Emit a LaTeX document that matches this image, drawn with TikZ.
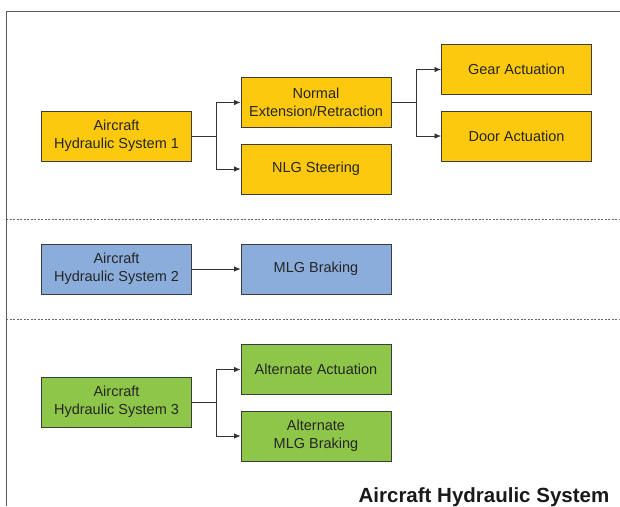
\documentclass[tikz,border=0pt]{standalone}
\usepackage{fontspec}
\setmainfont{Liberation Sans}
\usetikzlibrary{arrows.meta}
\definecolor{boxyellow}{RGB}{252,201,14}
\definecolor{boxblue}{RGB}{138,173,219}
\definecolor{boxgreen}{RGB}{141,198,73}
\definecolor{edgegray}{RGB}{60,60,60}
\definecolor{framegray}{RGB}{90,90,90}
\begin{document}
\begin{tikzpicture}[x=1pt,y=-1pt,
  sysbox/.style={draw=edgegray, line width=0.9pt, minimum width=150pt, minimum height=50pt,
    inner sep=0pt, align=center, text=black!85,
    font=\fontsize{14.5}{17.7}\selectfont},
  yel/.style={sysbox, fill=boxyellow},
  blu/.style={sysbox, fill=boxblue},
  grn/.style={sysbox, fill=boxgreen},
  feed/.style={draw=black!80, line width=0.8pt, -{Latex[length=6.5pt,width=5.5pt]}},
  divider/.style={draw=black!60, line width=0.6pt, dash pattern=on 2pt off 1.5pt}]
\useasboundingbox (0,0) rectangle (620,506);

% outer frame (left and top edges)
\draw[framegray, line width=1pt] (6,506) -- (6,11) -- (620,11);

% section dividers
\draw[divider] (6,219) -- (620,219);
\draw[divider] (6,319) -- (620,319);

% system 1
\node[yel] (hs1) at (116.5,136) {Aircraft\\Hydraulic System 1};
\node[yel] (ner) at (316,102.5) {Normal\\Extension/Retraction};
\node[yel] (nlg) at (316,169) {NLG Steering};
\node[yel] (gear) at (516.5,69.5) {Gear Actuation};
\node[yel] (door) at (516.5,136) {Door Actuation};

% system 2
\node[blu] (hs2) at (116.5,269) {Aircraft\\Hydraulic System 2};
\node[blu] (mlg) at (316,269) {MLG Braking};

% system 3
\node[grn] (hs3) at (116.5,402) {Aircraft\\Hydraulic System 3};
\node[grn] (alt) at (316,369.5) {Alternate Actuation};
\node[grn] (altmlg) at (316,436) {Alternate\\MLG Braking};

% connectors
\draw[feed] (hs1.east) -- ++(24.5,0) |- (ner.west);
\draw[feed] (hs1.east) -- ++(24.5,0) |- (nlg.west);
\draw[feed] (ner.east) -- ++(25,0) |- (gear.west);
\draw[feed] (ner.east) -- ++(25,0) |- (door.west);
\draw[feed] (hs2.east) -- (mlg.west);
\draw[feed] (hs3.east) -- ++(24.5,0) |- (alt.west);
\draw[feed] (hs3.east) -- ++(24.5,0) |- (altmlg.west);

% title
\node[anchor=base east, inner sep=0pt, font=\bfseries\fontsize{20.5}{23}\selectfont, text=black!90]
  (title) at (609.5,502) {Aircraft Hydraulic System};
\end{tikzpicture}
\end{document}
